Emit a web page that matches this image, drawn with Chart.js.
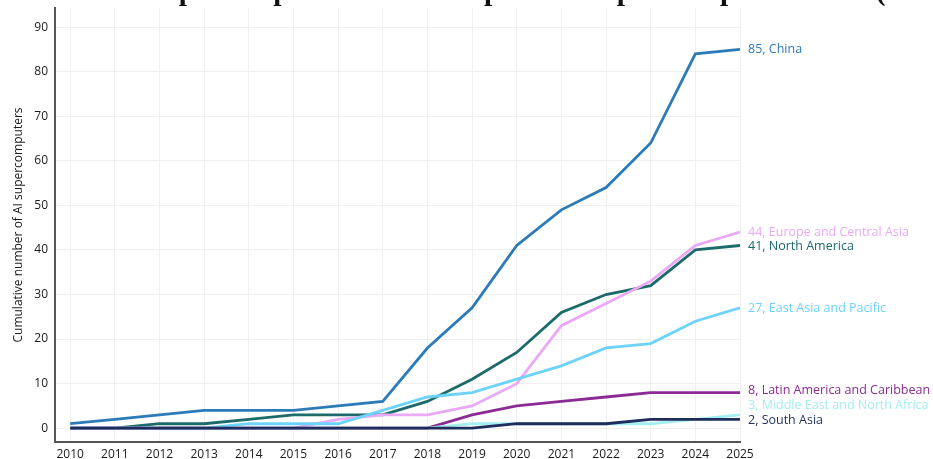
<!DOCTYPE html>
<html>
<head>
<meta charset="utf-8">
<script src="https://cdn.jsdelivr.net/npm/chart.js@4.4.1/dist/chart.umd.min.js"></script>
<style>
  html, body { margin: 0; padding: 0; background: #fff; overflow: hidden; }
  #wrap { position: relative; width: 933px; height: 459px; }
  #title {
    position: absolute; left: 4px; top: -26px; white-space: nowrap;
    font-family: "Liberation Serif", serif; font-weight: bold; font-size: 29.5px; color: #111;
  }
  canvas { position: absolute; left: 0; top: 0; }
</style>
</head>
<body>
<div id="wrap">
  <canvas id="chart" width="933" height="459"></canvas>
  <div id="title">Número de supercomputadoras de IA públicas e público-privadas IA (2010-2025)</div>
</div>
<script>
// Years on the x axis
const years = [2010, 2011, 2012, 2013, 2014, 2015, 2016, 2017, 2018, 2019, 2020, 2021, 2022, 2023, 2024, 2025];
const yTicks = [0, 10, 20, 30, 40, 50, 60, 70, 80, 90];

// Cumulative AI supercomputers per region
const china        = [1, 2, 3, 4, 4, 4, 5, 6, 18, 27, 41, 49, 54, 64, 84, 85];
const northAmerica = [0, 0, 1, 1, 2, 3, 3, 3, 6, 11, 17, 26, 30, 32, 40, 41];
const europe       = [0, 0, 0, 0, 0, 0, 2, 3, 3, 5, 10, 23, 28, 33, 41, 44];
const eastAsia     = [0, 0, 0, 0, 1, 1, 1, 4, 7, 8, 11, 14, 18, 19, 24, 27];
const latinAmerica = [0, 0, 0, 0, 0, 0, 0, 0, 0, 3, 5, 6, 7, 8, 8, 8];
const middleEast   = [0, 0, 0, 0, 0, 0, 0, 0, 0, 1, 1, 1, 1, 1, 2, 3];
const southAsia    = [0, 0, 0, 0, 0, 0, 0, 0, 0, 0, 1, 1, 1, 2, 2, 2];

const regionNames = ['South Asia', 'Middle East and North Africa', 'Latin America and Caribbean',
  'East Asia and Pacific', 'Europe and Central Asia', 'North America', 'China'];
const regionData = [southAsia, middleEast, latinAmerica, eastAsia, europe, northAmerica, china];
const regionColors = ['#1f2d5c', '#a4eef0', '#8c2b95', '#6dd3fb', '#e9a9f6', '#1c6a6a', '#2b7bb9'];
// small vertical nudges so end labels don't collide
const labelNudge = [1, -9, -2, 1, 0, 1, 0];

const datasets = regionNames.map(function(name, i) {
  return {
    label: name,
    data: years.map(function(yr, j) { return { x: yr, y: regionData[i][j] }; }),
    borderColor: regionColors[i],
    backgroundColor: regionColors[i],
    borderWidth: 2.8,
    pointRadius: 0,
    tension: 0
  };
});

const endLabels = {
  id: 'endLabels',
  afterDatasetsDraw(chart) {
    const ctx = chart.ctx;
    const xs = chart.scales.x, ys = chart.scales.y;
    ctx.save();
    ctx.font = '12.5px "Open Sans", sans-serif';
    ctx.textBaseline = 'middle';
    ctx.textAlign = 'left';
    chart.data.datasets.forEach(function(ds, i) {
      const last = ds.data[ds.data.length - 1];
      ctx.fillStyle = ds.borderColor;
      ctx.fillText(last.y + ', ' + ds.label, xs.getPixelForValue(last.x) + 8, ys.getPixelForValue(last.y) + labelNudge[i]);
    });
    ctx.restore();
  }
};

const tickFont = { family: '"Open Sans", sans-serif', size: 12, weight: '500' };

new Chart(document.getElementById('chart').getContext('2d'), {
  type: 'line',
  data: { datasets: datasets },
  plugins: [endLabels],
  options: {
    responsive: false,
    animation: false,
    layout: { padding: { top: 8, right: 193, left: 0, bottom: 0 } },
    plugins: { legend: { display: false }, tooltip: { enabled: false } },
    scales: {
      x: {
        type: 'linear',
        min: 2009.66,
        max: 2025,
        afterBuildTicks: function(scale) { scale.ticks = years.map(function(v) { return { value: v }; }); },
        afterFit: function(scale) { scale.height = 17; scale.paddingLeft = 0; scale.paddingRight = 0; },
        grid: { color: '#f0f0f0', lineWidth: 1, drawTicks: false },
        border: { color: '#555', width: 2 },
        ticks: {
          color: '#1a1a1a', padding: 5, maxRotation: 0, autoSkip: false,
          font: tickFont,
          callback: function(v) { return String(v); }
        }
      },
      y: {
        min: -3.1,
        max: 94.3,
        afterBuildTicks: function(scale) { scale.ticks = yTicks.map(function(v) { return { value: v }; }); },
        afterFit: function(scale) { scale.width = 55; scale.paddingTop = 0; scale.paddingBottom = 0; },
        grid: { color: '#f0f0f0', lineWidth: 1, drawTicks: false },
        border: { color: '#555', width: 2 },
        title: {
          display: true,
          text: 'Cumulative number of AI supercomputers',
          color: '#1a1a1a',
          font: { family: '"Open Sans", sans-serif', size: 12 },
          padding: { top: 11, bottom: 0 }
        },
        ticks: {
          color: '#1a1a1a', padding: 7,
          font: tickFont
        }
      }
    }
  }
});
</script>
</body>
</html>
